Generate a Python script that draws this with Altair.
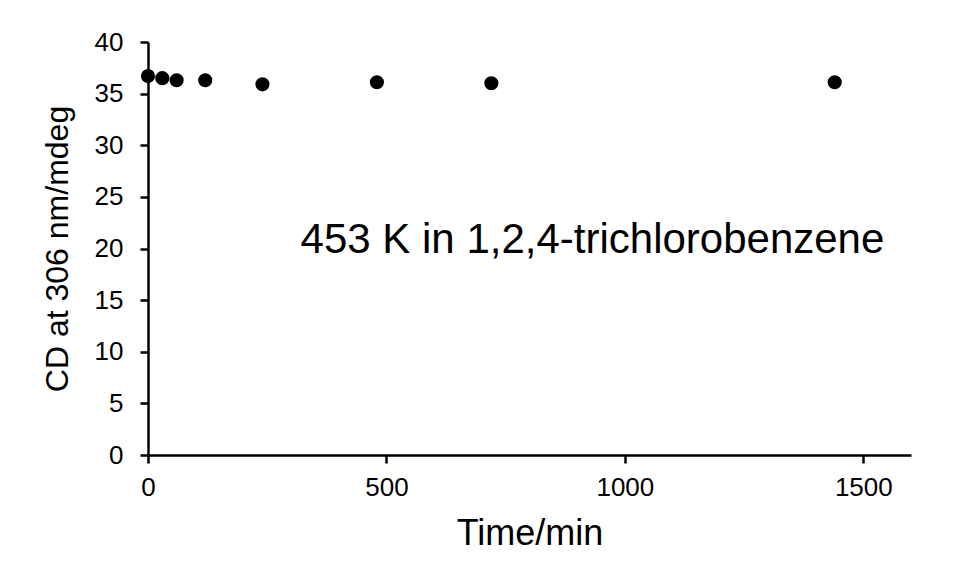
import altair as alt
import pandas as pd

# data
time_min = [0, 30, 60, 120, 240, 480, 720, 1440]
cd_mdeg = [36.7, 36.5, 36.3, 36.3, 35.9, 36.1, 36.0, 36.1]

x_ticks = [0, 500, 1000, 1500]
y_ticks = [0, 5, 10, 15, 20, 25, 30, 35, 40]

note_text = ["453 K in 1,2,4-trichlorobenzene"]
note_x = [320]
note_y = [20.8]

FONT = "Liberation Sans"

df = pd.DataFrame({"t": time_min, "cd": cd_mdeg})
notes = pd.DataFrame({"x": note_x, "y": note_y, "label": note_text})

x_scale = alt.Scale(domain=[0, 1600], nice=False, zero=False)
y_scale = alt.Scale(domain=[0, 40], nice=False)

points = alt.Chart(df).mark_circle(size=200, color="black", opacity=1).encode(
    x=alt.X("t:Q", scale=x_scale,
            axis=alt.Axis(title="Time/min", values=x_ticks, grid=False, format="d",
                          labelFontSize=26, titleFontSize=36,
                          labelPadding=11, titlePadding=16,
                          tickSize=8, tickWidth=2.5, domainWidth=2.5,
                          domainColor="black", tickColor="black",
                          labelColor="black", titleColor="black",
                          labelFont=FONT, titleFont=FONT, titleFontWeight="normal",
                          labelFlush=False)),
    y=alt.Y("cd:Q", scale=y_scale,
            axis=alt.Axis(title="CD at 306 nm/mdeg", values=y_ticks, grid=False, format="d",
                          labelFontSize=26, titleFontSize=32,
                          labelPadding=17, titleX=-74,
                          tickSize=8, tickWidth=2.5, domainWidth=2.5,
                          domainColor="black", tickColor="black",
                          labelColor="black", titleColor="black",
                          labelFont=FONT, titleFont=FONT, titleFontWeight="normal",
                          labelFlush=False)),
)

note = alt.Chart(notes).mark_text(
    align="left", baseline="middle", fontSize=42, font=FONT, color="black"
).encode(
    x=alt.X("x:Q", scale=x_scale),
    y=alt.Y("y:Q", scale=y_scale),
    text="label:N",
)

chart = (points + note).properties(
    width=763,
    height=413,
    autosize=alt.AutoSizeParams(type="none"),
    padding={"left": 148, "top": 42, "right": 48, "bottom": 130},
    background="white",
).configure_view(stroke=None)

chart.save("out.html", embed_options={"renderer": "svg", "actions": False})
